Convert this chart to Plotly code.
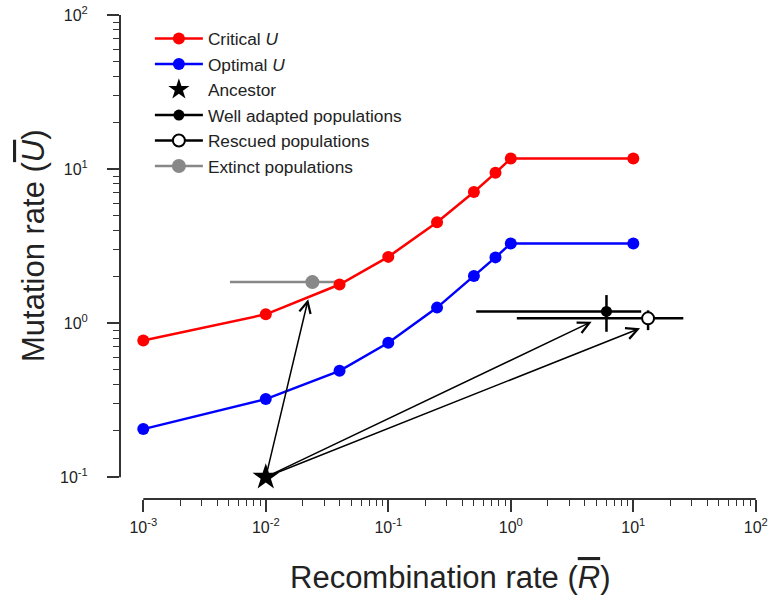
import numpy as np
import plotly.graph_objects as go

# ---------------- data ----------------
R_vals = [0.001, 0.01, 0.04, 0.1, 0.25, 0.5, 0.75, 1.0, 10.0]
U_critical = [0.77, 1.14, 1.78, 2.69, 4.52, 7.1, 9.45, 11.7, 11.7]
U_optimal = [0.205, 0.321, 0.49, 0.745, 1.26, 2.02, 2.67, 3.29, 3.29]

ancestor_R = [0.01]
ancestor_U = [0.1]

well_R = [6.04]
well_U = [1.19]
well_R_lo = [0.522]
well_R_hi = [11.6]
well_U_lo = [0.878]
well_U_hi = [1.52]

resc_R = [13.2]
resc_U = [1.073]
resc_R_lo = [1.12]
resc_R_hi = [25.6]
resc_U_lo = [0.90]
resc_U_hi = [1.21]

ext_R = [0.024]
ext_U = [1.845]
ext_R_lo = [0.0051]
ext_R_hi = [0.043]

arrow_to_R = [0.0222, 4.57, 11.35]
arrow_to_U = [1.43, 1.02, 0.924]

x_tickvals = [1e-3, 1e-2, 1e-1, 1e0, 1e1, 1e2]
x_ticktext = ["10<sup>-3</sup>", "10<sup>-2</sup>", "10<sup>-1</sup>", "10<sup>0</sup>", "10<sup>1</sup>", "10<sup>2</sup>"]
y_tickvals = [1e-1, 1e0, 1e1, 1e2]
y_ticktext = ["10<sup>-1</sup>", "10<sup>0</sup>", "10<sup>1</sup>", "10<sup>2</sup>"]

# ---------------- styling ----------------
FONT = "Liberation Sans, Arial, Helvetica, sans-serif"
TXT = "#222222"
AX = "#333333"

xr = [-3.190, 2.0016]
yr = [-1.142, 2.0]

def minor_vals(lo, hi):
    out = []
    for d in range(lo, hi):
        for k in range(2, 10):
            out.append(k * 10.0 ** d)
    return out

fig = go.Figure()

# extinct (drawn first, beneath curves)
fig.add_trace(go.Scatter(
    x=ext_R, y=ext_U, mode="lines+markers", name="Extinct populations",
    legendrank=6,
    line=dict(color="#888888", width=2.5),
    marker=dict(color="#888888", size=14),
    error_x=dict(type="data", symmetric=False,
                 array=[h - v for h, v in zip(ext_R_hi, ext_R)],
                 arrayminus=[v - l for l, v in zip(ext_R_lo, ext_R)],
                 color="#888888", thickness=2.5, width=0),
))

fig.add_trace(go.Scatter(
    x=R_vals, y=U_critical, mode="lines+markers", name="Critical <i>U</i>",
    legendrank=1,
    line=dict(color="#ff0000", width=2.5),
    marker=dict(color="#ff0000", size=12),
))
fig.add_trace(go.Scatter(
    x=R_vals, y=U_optimal, mode="lines+markers", name="Optimal <i>U</i>",
    legendrank=2,
    line=dict(color="#0000ff", width=2.5),
    marker=dict(color="#0000ff", size=12),
))
fig.add_trace(go.Scatter(
    x=well_R, y=well_U, mode="lines+markers", name="Well adapted populations",
    legendrank=4,
    line=dict(color="black", width=2.5),
    marker=dict(color="black", size=11),
    error_x=dict(type="data", symmetric=False,
                 array=[h - v for h, v in zip(well_R_hi, well_R)],
                 arrayminus=[v - l for l, v in zip(well_R_lo, well_R)],
                 color="black", thickness=2.5, width=0),
    error_y=dict(type="data", symmetric=False,
                 array=[h - v for h, v in zip(well_U_hi, well_U)],
                 arrayminus=[v - l for l, v in zip(well_U_lo, well_U)],
                 color="black", thickness=2.5, width=0),
))
fig.add_trace(go.Scatter(
    x=resc_R, y=resc_U, mode="lines+markers", name="Rescued populations",
    legendrank=5,
    line=dict(color="black", width=2.5),
    marker=dict(color="white", size=12, line=dict(color="black", width=2)),
    error_x=dict(type="data", symmetric=False,
                 array=[h - v for h, v in zip(resc_R_hi, resc_R)],
                 arrayminus=[v - l for l, v in zip(resc_R_lo, resc_R)],
                 color="black", thickness=2.5, width=0),
    error_y=dict(type="data", symmetric=False,
                 array=[h - v for h, v in zip(resc_U_hi, resc_U)],
                 arrayminus=[v - l for l, v in zip(resc_U_lo, resc_U)],
                 color="black", thickness=2.5, width=0),
))
fig.add_trace(go.Scatter(
    x=ancestor_R, y=ancestor_U, mode="markers", name="Ancestor",
    legendrank=3,
    marker=dict(color="black", symbol="star", size=20),
    cliponaxis=False,
))

# arrows from ancestor
for tx, ty in zip(arrow_to_R, arrow_to_U):
    fig.add_annotation(
        x=np.log10(tx), y=np.log10(ty), xref="x", yref="y",
        ax=np.log10(ancestor_R[0]), ay=np.log10(ancestor_U[0]), axref="x", ayref="y",
        text="", showarrow=True, arrowhead=5, arrowsize=1.5, arrowwidth=1.5,
        arrowcolor="black", standoff=0, startstandoff=0,
    )

# axis titles
fig.add_annotation(
    x=(450 - 120) / 636, y=(499 - 577) / 484, xref="paper", yref="paper",
    text='Recombination rate (<span style="text-decoration:overline"><i>R</i></span>)',
    showarrow=False, xanchor="center", yanchor="middle",
    font=dict(family=FONT, size=31, color=TXT),
)
fig.add_annotation(
    x=(33 - 120) / 636, y=(499 - 246) / 484, xref="paper", yref="paper",
    text='Mutation rate (<span style="text-decoration:overline"><i>U</i></span>)',
    showarrow=False, xanchor="center", yanchor="middle", textangle=-90,
    font=dict(family=FONT, size=31, color=TXT),
)

# separated axis lines
xf0 = (-3 - xr[0]) / (xr[1] - xr[0])
xf1 = (2 - xr[0]) / (xr[1] - xr[0])
yf0 = (-1 - yr[0]) / (yr[1] - yr[0])
yf1 = (2 - yr[0]) / (yr[1] - yr[0])
fig.add_shape(type="line", xref="paper", yref="paper", x0=xf0, x1=xf1, y0=0, y1=0,
              line=dict(color=AX, width=2))
fig.add_shape(type="line", xref="paper", yref="paper", x0=0, x1=0, y0=yf0, y1=yf1,
              line=dict(color=AX, width=2))

fig.update_xaxes(
    type="log", range=xr, showgrid=False, zeroline=False, showline=False,
    automargin=False,
    tickmode="array", tickvals=x_tickvals, ticktext=x_ticktext,
    ticks="outside", ticklen=12, tickwidth=1.5, tickcolor=AX,
    ticklabelstandoff=2,
    tickfont=dict(family=FONT, size=16, color=TXT),
    minor=dict(tickvals=minor_vals(-3, 2), ticks="outside", ticklen=6,
               tickwidth=1.2, tickcolor=AX, showgrid=False),
)
fig.update_yaxes(
    type="log", range=yr, showgrid=False, zeroline=False, showline=False,
    automargin=False,
    tickmode="array", tickvals=y_tickvals, ticktext=y_ticktext,
    ticks="outside", ticklen=12, tickwidth=1.5, tickcolor=AX,
    ticklabelstandoff=16,
    tickfont=dict(family=FONT, size=16, color=TXT),
    minor=dict(tickvals=minor_vals(-1, 2), ticks="outside", ticklen=6,
               tickwidth=1.2, tickcolor=AX, showgrid=False),
)

fig.update_layout(
    width=770, height=596,
    margin=dict(l=120, r=14, t=15, b=97, autoexpand=False),
    paper_bgcolor="white", plot_bgcolor="white",
    font=dict(family=FONT, color=TXT),
    legend=dict(
        x=0.047, y=0.988, xanchor="left", yanchor="top",
        bgcolor="rgba(0,0,0,0)", borderwidth=0,
        font=dict(family=FONT, size=17.3, color=TXT),
        itemwidth=48,
    ),
)

fig.write_html("out.html")
